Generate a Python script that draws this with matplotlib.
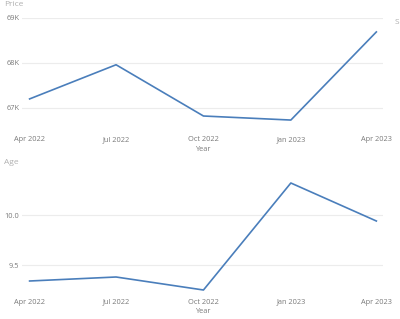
import matplotlib.pyplot as plt
import numpy as np

plt.rcParams['font.family'] = ['Open Sans', 'DejaVu Sans']

dates = np.array(['2022-04-01', '2022-07-01', '2022-10-01', '2023-01-01', '2023-04-01'], dtype='datetime64[D]')
price = [67.20, 67.96, 66.82, 66.73, 68.69]   # thousands
age = [9.34, 9.38, 9.25, 10.32, 9.94]
tick_labels = ['Apr 2022', 'Jul 2022', 'Oct 2022', 'Jan 2023', 'Apr 2023']

W, H = 400, 319
fig = plt.figure(figsize=(W / 100, H / 100), dpi=100)

def px_axes(x0, y0, x1, y1):
    # pixel box (top-left origin) -> figure coords
    return fig.add_axes([x0 / W, 1 - y1 / H, (x1 - x0) / W, (y1 - y0) / H])

line_c = '#4a7ebb'
tick_c = '#7a7a7a'
title_c = '#b0b0b0'
grid_c = '#ececec'

ax1 = px_axes(22, 18, 383, 125)
ax2 = px_axes(22, 178, 383, 293)

ax1.plot(dates, price, color=line_c, lw=1.2)
ax1.set_ylim(66.62, 69.0)
ax1.set_yticks([67, 68, 69])
ax1.set_yticklabels(['67K', '68K', '69K'])

ax2.plot(dates, age, color=line_c, lw=1.2)
ax2.set_ylim(9.22, 10.37)
ax2.set_yticks([9.5, 10.0])
ax2.set_yticklabels(['9.5', '10.0'])

for ax, xpad in ((ax1, 8), (ax2, 4)):
    ax.set_xlim(dates[0] - np.timedelta64(8, 'D'), dates[-1] + np.timedelta64(7, 'D'))
    ax.set_xticks(dates)
    ax.set_xticklabels(tick_labels)
    for s in ax.spines.values():
        s.set_visible(False)
    ax.grid(axis='y', color=grid_c, lw=0.8)
    ax.set_axisbelow(True)
    ax.tick_params(length=0, labelsize=5.3, colors=tick_c)
    ax.tick_params(axis='x', pad=xpad)
    ax.tick_params(axis='y', pad=2)
    ax.set_xlabel('Year', fontsize=5.3, color=tick_c, labelpad=2)

fig.text(4 / W, 1 - 5 / H, 'Price', fontsize=6, color=title_c, va='center', ha='left')
fig.text(4 / W, 1 - 163 / H, 'Age', fontsize=6, color=title_c, va='center', ha='left')
fig.text(395 / W, 1 - 23 / H, 'S', fontsize=6, color=title_c, va='center', ha='left')

fig.savefig('out.png', dpi=100)
